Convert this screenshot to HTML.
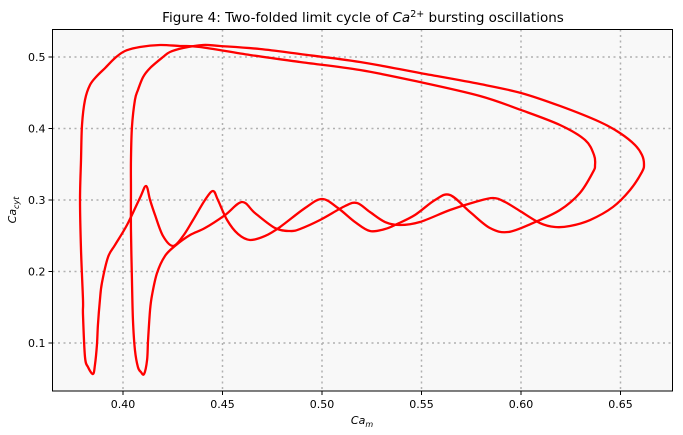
<!DOCTYPE html>
<html><head><meta charset="utf-8"><style>
html,body{margin:0;padding:0;background:#fff;}
svg{display:block;font-family:"DejaVu Sans","Liberation Sans",sans-serif;}
</style></head><body>
<svg id="chart" width="683" height="435" viewBox="0 0 683 435">
  <text x="363" y="22" font-size="13.5" text-anchor="middle" fill="#000">Figure 4: Two-folded limit cycle of <tspan font-style="italic">Ca</tspan><tspan font-size="9.5" dy="-5">2+</tspan><tspan dy="5"> bursting oscillations</tspan></text>
  <rect x="52.5" y="29.5" width="620" height="361.5" fill="#f8f8f8"/>
  <g id="grid"></g>
  <g id="series"></g>
  <rect x="52.5" y="29.5" width="620" height="361.5" fill="none" stroke="#000" stroke-width="1"/>
  <g id="ticks"></g>
  <text x="362" y="424" font-size="11" text-anchor="middle" font-style="italic">Ca<tspan font-size="8" dy="3">m</tspan></text>
  <text transform="translate(16,210) rotate(-90)" font-size="11" text-anchor="middle" font-style="italic">Ca<tspan font-size="8" dy="3">cyt</tspan></text>
</svg>
<script>
const xTicks=[0.40,0.45,0.50,0.55,0.60,0.65];
const xTickLabels=["0.40","0.45","0.50","0.55","0.60","0.65"];
const yTicks=[0.1,0.2,0.3,0.4,0.5];
const yTickLabels=["0.1","0.2","0.3","0.4","0.5"];
const loopAx=[0.3849,0.3824,0.3809,0.3799,0.3799,0.3789,0.3784,0.3789,0.3794,0.3809,0.3834,0.3869,0.3910,0.3960,0.4010,0.4085,0.4186,0.4286,0.4387,0.4638,0.4889,0.5191,0.5492,0.5794,0.6000,0.6196,0.6322,0.6367,0.6372,0.6362,0.6296,0.6196,0.6060,0.5935,0.5844,0.5744,0.5643,0.5568,0.5467,0.5377,0.5317,0.5241,0.5166,0.5080,0.5000,0.4915,0.4789,0.4714,0.4638,0.4578,0.4523,0.4477,0.4452,0.4412,0.4352,0.4302,0.4251,0.4201,0.4161,0.4136,0.4116,0.4085,0.4020,0.3960,0.3925,0.3894,0.3884,0.3874,0.3869,0.3859];
const loopAy=[0.0566,0.0664,0.0804,0.1392,0.1601,0.2301,0.3000,0.3559,0.4049,0.4399,0.4608,0.4734,0.4846,0.4986,0.5084,0.5140,0.5168,0.5154,0.5140,0.5028,0.4930,0.4818,0.4650,0.4455,0.4259,0.4049,0.3839,0.3629,0.3489,0.3392,0.3098,0.2860,0.2678,0.2552,0.2608,0.2832,0.3070,0.3000,0.2790,0.2664,0.2594,0.2566,0.2692,0.2888,0.3014,0.2888,0.2622,0.2497,0.2441,0.2524,0.2720,0.3000,0.3126,0.3000,0.2720,0.2497,0.2357,0.2497,0.2790,0.3000,0.3196,0.3028,0.2650,0.2371,0.2203,0.1839,0.1601,0.1252,0.0972,0.0692];
const loopBx=[0.4106,0.4090,0.4075,0.4060,0.4050,0.4045,0.4040,0.4040,0.4040,0.4045,0.4060,0.4075,0.4101,0.4136,0.4201,0.4236,0.4302,0.4402,0.4487,0.4688,0.4889,0.5191,0.5492,0.5794,0.6000,0.6196,0.6397,0.6497,0.6573,0.6608,0.6618,0.6608,0.6548,0.6462,0.6347,0.6246,0.6171,0.6095,0.5995,0.5920,0.5859,0.5769,0.5643,0.5492,0.5392,0.5317,0.5241,0.5176,0.5116,0.4990,0.4889,0.4839,0.4764,0.4663,0.4598,0.4513,0.4412,0.4337,0.4261,0.4211,0.4171,0.4146,0.4136,0.4126,0.4121];
const loopBy=[0.0566,0.0594,0.0664,0.0902,0.1322,0.1881,0.2580,0.3140,0.3559,0.4021,0.4399,0.4538,0.4720,0.4846,0.5000,0.5070,0.5126,0.5168,0.5154,0.5112,0.5042,0.4930,0.4776,0.4622,0.4497,0.4315,0.4091,0.3937,0.3769,0.3629,0.3503,0.3392,0.3140,0.2902,0.2720,0.2636,0.2622,0.2678,0.2846,0.2972,0.3028,0.2972,0.2860,0.2692,0.2650,0.2692,0.2832,0.2958,0.2916,0.2720,0.2594,0.2566,0.2608,0.2818,0.2972,0.2790,0.2608,0.2510,0.2357,0.2217,0.1979,0.1671,0.1462,0.1042,0.0762];

const L=52.5,R=672.5,T=29.5,B=391;
const X0=0.364573,X1=0.676131,Y0=0.03286,Y1=0.53846;
function sx(v){return L+(v-X0)/(X1-X0)*(R-L);}
function sy(v){return B-(v-Y0)/(Y1-Y0)*(B-T);}
const NS="http://www.w3.org/2000/svg";
function mk(tag,attrs,parent){const e=document.createElementNS(NS,tag);for(const k in attrs)e.setAttribute(k,attrs[k]);parent.appendChild(e);return e;}
const grid=document.getElementById('grid'),ticks=document.getElementById('ticks'),series=document.getElementById('series');
xTicks.forEach((v,i)=>{
  const x=sx(v);
  const g=mk('line',{x1:x,x2:x,y1:T,y2:B,stroke:'#b0b0b0','stroke-width':1.5,'stroke-dasharray':'2,3.5'},grid);
  
  
  const t=mk('line',{x1:x,x2:x,y1:B,y2:B+4,stroke:'#000','stroke-width':1},ticks);
  
  
  const lb=mk('text',{x:x,y:B+17,'font-size':11,'text-anchor':'middle',fill:'#000'},ticks);
  lb.textContent=xTickLabels[i];
  
  
});
yTicks.forEach((v,i)=>{
  const y=sy(v);
  const g=mk('line',{x1:L,x2:R,y1:y,y2:y,stroke:'#b0b0b0','stroke-width':1.5,'stroke-dasharray':'2,3.5'},grid);
  
  
  const t=mk('line',{x1:L-4,x2:L,y1:y,y2:y,stroke:'#000','stroke-width':1},ticks);
  
  
  const lb=mk('text',{x:L-7,y:y+4,'font-size':11,'text-anchor':'end',fill:'#000'},ticks);
  lb.textContent=yTickLabels[i];
  
  
});
function closedPath(xs,ys){
  const n=xs.length,p=[];
  for(let i=0;i<n;i++)p.push([sx(xs[i]),sy(ys[i])]);
  let d='M'+p[0][0].toFixed(2)+','+p[0][1].toFixed(2);
  for(let i=0;i<n;i++){
    const p0=p[(i-1+n)%n],p1=p[i],p2=p[(i+1)%n],p3=p[(i+2)%n];
    const c1=[p1[0]+(p2[0]-p0[0])/6,p1[1]+(p2[1]-p0[1])/6];
    const c2=[p2[0]-(p3[0]-p1[0])/6,p2[1]-(p3[1]-p1[1])/6];
    d+='C'+c1[0].toFixed(2)+','+c1[1].toFixed(2)+' '+c2[0].toFixed(2)+','+c2[1].toFixed(2)+' '+p2[0].toFixed(2)+','+p2[1].toFixed(2);
  }
  return d+'Z';
}
const pa=mk('path',{d:closedPath(loopAx,loopAy),fill:'none',stroke:'#ff0000','stroke-width':2.3,'stroke-linejoin':'round'},series);


const pb=mk('path',{d:closedPath(loopBx,loopBy),fill:'none',stroke:'#ff0000','stroke-width':2.3,'stroke-linejoin':'round'},series);


</script>
</body></html>
